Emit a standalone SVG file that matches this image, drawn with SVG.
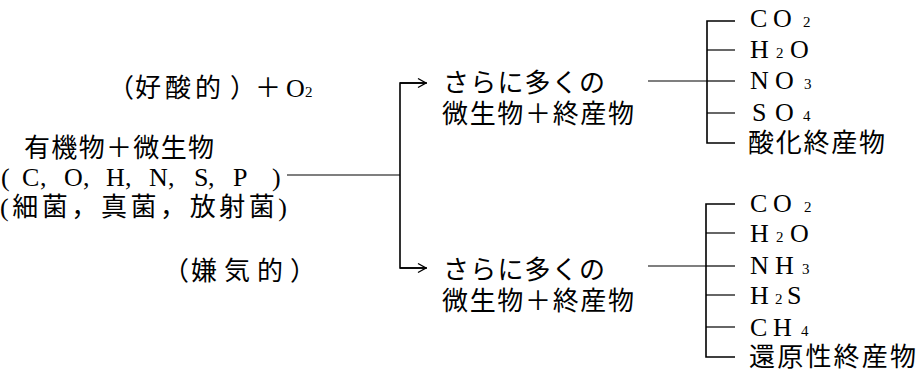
<svg xmlns="http://www.w3.org/2000/svg" width="918" height="374" viewBox="0 0 918 374">
<style>
.t{font-family:"Liberation Serif","Noto Sans CJK JP",serif;font-size:26px;fill:#000}
.s{font-size:15px}
.c{stroke:#000;stroke-width:1.6;fill:none}
.thin{stroke:#000;stroke-width:1.2;fill:none}
</style>
<defs>
<marker id="arr" markerWidth="10" markerHeight="12" refX="9" refY="6" orient="auto" markerUnits="userSpaceOnUse">
<path d="M1,1.5 L9,6 L1,10.5" fill="none" stroke="#000" stroke-width="1.4"/>
</marker>
</defs>
<rect width="918" height="374" fill="#fff"/>

<g id="aerobic-label">
<text class="t" y="97" x="108 135 165 195 230 255 286 305">（好酸的）＋O<tspan class="s">2</tspan></text>
</g>
<g id="anaerobic-label">
<text class="t" y="280" x="163 191 224 257 290">（嫌気的）</text>
</g>
<g id="source">
<text class="t" x="24" y="157" textLength="190" lengthAdjust="spacing">有機物＋微生物</text>
<text class="t" y="186" x="1 22 40 46 64 83 89 106 125 131 149 168 174 194 208 214 233 272">(C, O, H, N, S, P)</text>
<text class="t" x="0" y="216" textLength="287" lengthAdjust="spacing">(細菌，真菌，放射菌)</text>
</g>
<g id="aerobic-product">
<text class="t" x="443" y="92" textLength="162" lengthAdjust="spacing">さらに多くの</text>
<text class="t" x="442" y="123" textLength="192" lengthAdjust="spacing">微生物＋終産物</text>
</g>
<g id="anaerobic-product">
<text class="t" x="443" y="279" textLength="162" lengthAdjust="spacing">さらに多くの</text>
<text class="t" x="442" y="310" textLength="192" lengthAdjust="spacing">微生物＋終産物</text>
</g>
<g id="oxidized-products">
<text class="t" y="27"><tspan x="750">C</tspan><tspan x="773">O</tspan><tspan class="s" x="803">2</tspan></text>
<text class="t" y="58"><tspan x="750">H</tspan><tspan class="s" x="776">2</tspan><tspan x="790">O</tspan></text>
<text class="t" y="89"><tspan x="750">N</tspan><tspan x="775">O</tspan><tspan class="s" x="804">3</tspan></text>
<text class="t" y="121"><tspan x="752">S</tspan><tspan x="775">O</tspan><tspan class="s" x="803">4</tspan></text>
<text class="t" x="748" y="152" textLength="137" lengthAdjust="spacing">酸化終産物</text>
</g>
<g id="reduced-products">
<text class="t" y="212"><tspan x="750">C</tspan><tspan x="773">O</tspan><tspan class="s" x="804">2</tspan></text>
<text class="t" y="242"><tspan x="750">H</tspan><tspan class="s" x="776">2</tspan><tspan x="790">O</tspan></text>
<text class="t" y="274"><tspan x="750">N</tspan><tspan x="775">H</tspan><tspan class="s" x="802">3</tspan></text>
<text class="t" y="304"><tspan x="750">H</tspan><tspan class="s" x="775">2</tspan><tspan x="787">S</tspan></text>
<text class="t" y="336"><tspan x="750">C</tspan><tspan x="773">H</tspan><tspan class="s" x="801">4</tspan></text>
<text class="t" x="749" y="366" textLength="167" lengthAdjust="spacing">還原性終産物</text>
</g>

<g id="connectors">
<line class="thin" x1="287" y1="175" x2="400" y2="175"/>
<polyline class="c" points="427,83 400,83 400,268 427,268"/>
<line class="c" x1="400" y1="83" x2="426" y2="83" marker-end="url(#arr)"/>
<line class="c" x1="400" y1="268" x2="426" y2="268" marker-end="url(#arr)"/>
<line class="thin" x1="648" y1="81" x2="707" y2="81"/>
<polyline class="c" points="735,21 707,21 707,143 735,143"/>
<line class="thin" x1="707" y1="50" x2="735" y2="50"/>
<line class="thin" x1="707" y1="81" x2="735" y2="81"/>
<line class="thin" x1="707" y1="113" x2="735" y2="113"/>
<line class="thin" x1="648" y1="266" x2="706" y2="266"/>
<polyline class="c" points="735,204 706,204 706,357 735,357"/>
<line class="thin" x1="706" y1="233" x2="735" y2="233"/>
<line class="thin" x1="706" y1="266" x2="735" y2="266"/>
<line class="thin" x1="706" y1="295" x2="735" y2="295"/>
<line class="thin" x1="706" y1="327" x2="735" y2="327"/>
</g>
</svg>
